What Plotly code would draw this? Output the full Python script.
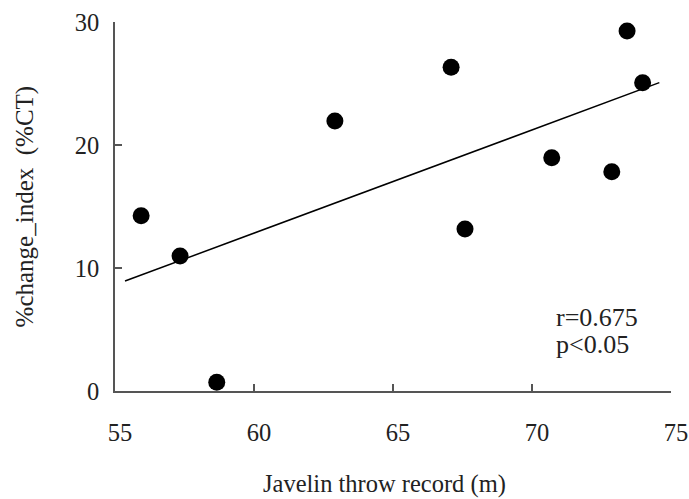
import plotly.graph_objects as go

# Data
javelin_record_m = [55.94, 57.34, 58.66, 62.91, 67.09, 67.59, 70.71, 72.87, 73.42, 73.98]
pct_change_index = [14.25, 10.98, 0.71, 21.95, 26.32, 13.17, 18.97, 17.83, 29.27, 25.07]

# Regression line endpoints as drawn in the reference
fit_x = [55.36, 74.58]
fit_y = [8.94, 25.07]

x_ticks = [55, 60, 65, 70, 75]
y_ticks = [0, 10, 20, 30]

FONT = "Liberation Serif, Times New Roman, serif"
AXIS_COLOR = "#555555"
TEXT_COLOR = "#222222"

fig = go.Figure()
fig.add_trace(go.Scatter(
    x=fit_x, y=fit_y, mode="lines",
    line=dict(color="black", width=1.5),
    showlegend=False, hoverinfo="skip",
))
fig.add_trace(go.Scatter(
    x=javelin_record_m, y=pct_change_index, mode="markers",
    marker=dict(color="black", size=17),
    showlegend=False,
))

for txt, yy in [("r=0.675", 0.198), ("p<0.05", 0.125)]:
    fig.add_annotation(
        x=0.79, y=yy, xref="paper", yref="paper",
        xanchor="left", yanchor="middle", align="left",
        text=txt, showarrow=False,
        font=dict(family=FONT, size=26, color=TEXT_COLOR),
    )

# Axis titles
fig.add_annotation(
    x=0.4856, y=-0.253, xref="paper", yref="paper",
    xanchor="center", yanchor="middle",
    text="Javelin throw record (m)", showarrow=False,
    font=dict(family=FONT, size=24.5, color=TEXT_COLOR),
)
fig.add_annotation(
    x=-0.162, y=0.5, xref="paper", yref="paper",
    xanchor="center", yanchor="middle", textangle=-90,
    text="%change_index  (%CT)", showarrow=False,
    font=dict(family=FONT, size=25, color=TEXT_COLOR),
)

fig.update_layout(
    width=689, height=499,
    margin=dict(l=115, r=18, t=22, b=108, autoexpand=False),
    paper_bgcolor="white", plot_bgcolor="white",
    font=dict(family=FONT, size=24, color=TEXT_COLOR),
    xaxis=dict(
        range=[55, 75], tickvals=x_ticks, ticktext=[str(v) for v in x_ticks],
        showgrid=False, zeroline=False, automargin=False,
        showline=True, linecolor=AXIS_COLOR, linewidth=1.5,
        ticks="inside", ticklen=7, tickwidth=1.5, tickcolor=AXIS_COLOR,
        ticklabelstandoff=19, ticklabelshift=5,
        tickfont=dict(family=FONT, size=24.5, color=TEXT_COLOR),
    ),
    yaxis=dict(
        range=[0, 30], tickvals=y_ticks, ticktext=[str(v) for v in y_ticks],
        showgrid=False, zeroline=False, automargin=False,
        showline=True, linecolor=AXIS_COLOR, linewidth=1.5,
        ticks="inside", ticklen=7, tickwidth=1.5, tickcolor=AXIS_COLOR,
        ticklabelstandoff=9,
        tickfont=dict(family=FONT, size=24.5, color=TEXT_COLOR),
    ),
)

fig.write_html(
    "out.html",
    config={"displayModeBar": False},
    post_script="document.body.style.margin='0';document.body.style.overflow='hidden';",
)
